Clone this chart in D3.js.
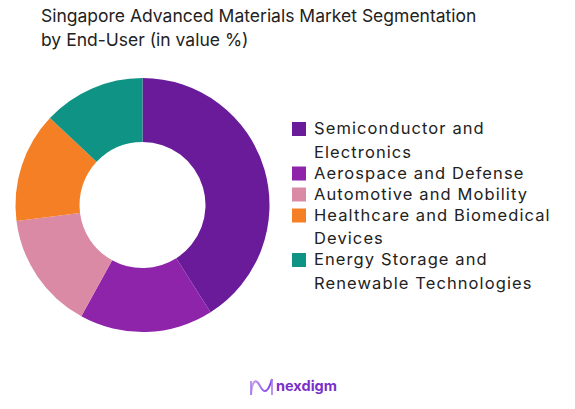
<!DOCTYPE html>
<html><head><meta charset="utf-8">
<script src="https://cdn.jsdelivr.net/npm/d3@7"></script>
<style>
body{margin:0;background:#fff;}
svg{display:block;font-family:Inter,"Open Sans",sans-serif;}
</style></head>
<body><svg id="c" width="575" height="409"></svg>
<script>
const categories = ["Semiconductor and Electronics","Aerospace and Defense","Automotive and Mobility","Healthcare and Biomedical Devices","Energy Storage and Renewable Technologies"];
const legendLines = [["Semiconductor and","Electronics"],["Aerospace and Defense"],["Automotive and Mobility"],["Healthcare and Biomedical","Devices"],["Energy Storage and","Renewable Technologies"]];
const values = [41, 17, 15, 14, 13];
const colors = ["#6A1B9A","#8E24AA","#DB8AA5","#F47F24","#0E9384"];
const titleLines = ["Singapore Advanced Materials Market Segmentation","by End-User (in value %)"];

const svg = d3.select("#c");
svg.append("g").selectAll("text").data(titleLines).join("text")
  .attr("x",41).attr("y",(d,i)=>22+i*24)
  .attr("font-size",17.5).attr("fill","#222").text(d=>d);

const cx=142.5, cy=205, rOuter=127, rInner=63;
const pie = d3.pie().sort(null).value(d=>d)(values);
const arc = d3.arc().innerRadius(rInner).outerRadius(rOuter);
svg.append("g").attr("transform",`translate(${cx},${cy})`)
  .selectAll("path").data(pie).join("path")
  .attr("d",arc).attr("fill",(d,i)=>colors[i]);

const leg = svg.append("g");
let y = 134;
legendLines.forEach((lines,i)=>{
  leg.append("rect").attr("x",292).attr("y",y-12).attr("width",14).attr("height",14).attr("fill",colors[i]);
  lines.forEach((t,j)=>{
    leg.append("text").attr("x",314).attr("y",y+j*23.5).attr("font-size",16.5)
      .attr("letter-spacing",1.1).attr("fill","#222").text(t);
  });
  y += (lines.length-1)*23.5 + 21;
});

// logo
const logo = svg.append("g");
const grad = svg.append("defs").append("linearGradient").attr("id","lg").attr("x1","0").attr("x2","1");
grad.append("stop").attr("offset","0").attr("stop-color","#C9A8F0");
grad.append("stop").attr("offset","1").attr("stop-color","#7C3AED");
logo.append("path").attr("d","M251,395 C252,380 256,378 260,386 C264,394 268,393 272,379")
  .attr("fill","none").attr("stroke","url(#lg)").attr("stroke-width",2);
logo.append("path").attr("d","M251,395 L251,381 M272,379 L272,395")
  .attr("fill","none").attr("stroke","#A77BEA").attr("stroke-width",1.6);
logo.append("text").attr("x",276).attr("y",391).attr("font-size",14.5).attr("font-weight",700)
  .attr("fill","#7B2FC9").text("nexdigm");
</script></body></html>
